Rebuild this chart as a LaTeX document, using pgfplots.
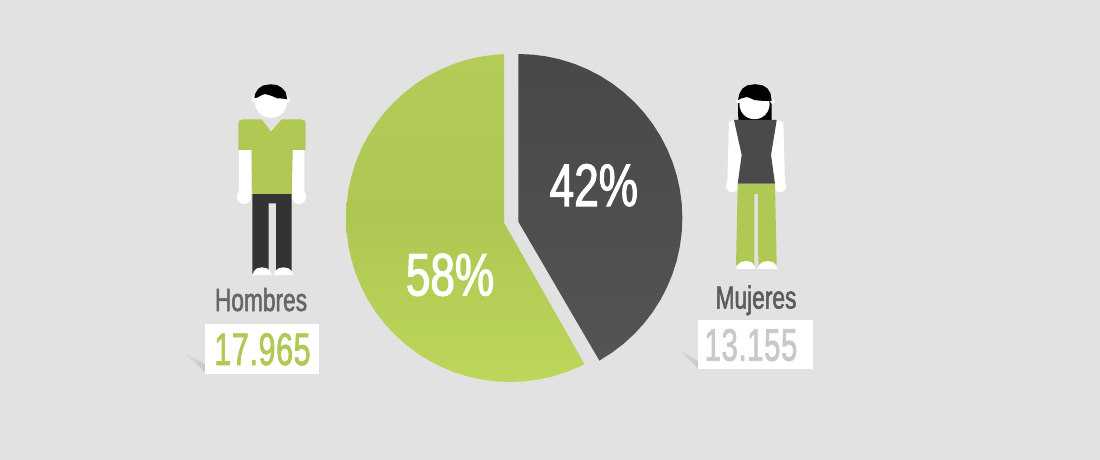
\documentclass[border=0pt]{standalone}
\usepackage{fontspec}
\usepackage{pgfplots}
\pgfplotsset{compat=1.18}
\usepgfplotslibrary{polar}
\newfontfamily\cond[FakeStretch=0.71,FakeBold=1.6]{Liberation Sans}
\newfontfamily\condlime[FakeStretch=0.665,FakeBold=1.6,LetterSpace=1.5]{Liberation Sans}
\newfontfamily\condpale[FakeStretch=0.64,FakeBold=1.6,LetterSpace=1.5]{Liberation Sans}
\newfontfamily\condpct[FakeStretch=0.735,FakeBold=1.8]{Liberation Sans}
\definecolor{bg}{HTML}{E2E2E2}
\definecolor{lime}{HTML}{B0C854}
\definecolor{limetop}{HTML}{B3CC57}
\definecolor{limemid}{HTML}{AEC753}
\definecolor{limebot}{HTML}{BCD75A}
\definecolor{coal}{HTML}{333333}
\definecolor{vest}{HTML}{4A4A4A}
\definecolor{vesttop}{HTML}{484848}
\definecolor{vestbot}{HTML}{545454}
\definecolor{label}{HTML}{666666}
\definecolor{pale}{HTML}{C8C8C8}
\pgfplotsset{
  canvas/.style={hide axis,scale only axis,width=1100pt,height=460pt,
    axis equal=false,enlargelimits=false,clip=true,at={(0,0)},anchor=south west},
  pixels/.style={canvas,xmin=0,xmax=1100,ymin=0,ymax=460,y dir=reverse},
  shape/.style={fill=#1,draw=none,no markers,line width=0pt},
  dot/.style={only marks,mark=*,mark size=#1,mark options={draw=none}},
}
\begin{document}
\begin{tikzpicture}
% everything but the pie, in picture pixels
\begin{axis}[pixels]
\addplot[shape=bg] coordinates {(0,0) (1100,0) (1100,460) (0,460)};

% man
\addplot[dot=2.5pt,white] coordinates {(254.5,99.5) (287,99.5)};
\addplot[dot=16pt,white] coordinates {(271,101.7)};
\addplot[shape=white] coordinates {(239,150) (251,150) (251.5,194) (239,194)};
\addplot[shape=white] coordinates {(292.5,150) (304.3,150) (304.3,194) (292,194)};
\addplot[dot=7pt,white] coordinates {(244,196.7) (299,196.7)};
\addplot[shape=coal] coordinates {(252.3,194) (291.7,194) (291.7,273.5) (276,273.5) (276,203.3) (268.7,203.3) (268.7,273.5) (252.3,273.5)};
\addplot[shape=white] coordinates {(252.7,275) (254,271) (257,268.3) (262,267.3) (267,268.3) (270.3,271) (271.7,275)};
\addplot[shape=white] coordinates {(274,275) (275.3,271) (278.5,268.3) (283.5,267.3) (288.5,268.3) (291.7,271) (293,275)};

% woman
\addplot[shape=black] coordinates {(738.3,120.5) (738,100) (771.7,100) (771.5,120.5)};
\addplot[dot=2pt,white] coordinates {(738.5,101) (772.5,101.5)};
\addplot[dot=14.8pt,white] coordinates {(754.5,104.2)};
\addplot[shape=white] coordinates {(729,122) (734,120) (741.7,155) (738,186) (727.3,184)};
\addplot[shape=white] coordinates {(783.3,122) (776.7,120) (771,155) (775,186) (785,184)};
\addplot[dot=6pt,white] coordinates {(732.3,186) (780,186)};

% labels and count boxes
\addplot[draw=none,left color=bg,right color=black!22] coordinates {(183,352) (205,364) (205,372)};
\addplot[draw=none,left color=bg,right color=black!22] coordinates {(676,348) (698,361) (698,368)};
\addplot[shape=white] coordinates {(205,324) (319,324) (319,374) (205,374)};
\addplot[shape=white] coordinates {(698,320) (813,320) (813,368.7) (698,368.7)};
\node[anchor=base,inner sep=0pt,text=label] at (axis cs:261,311) {\cond\fontsize{32}{32}\selectfont Hombres};
\node[anchor=base,inner sep=0pt,text=label!90!black] at (axis cs:756,308.6) {\cond\fontsize{32}{32}\selectfont Mujeres};
\node[anchor=base,inner sep=0pt,text=lime] at (axis cs:262.5,365) {\condlime\fontsize{45.6}{46}\selectfont 17.965};
\node[anchor=base,inner sep=0pt,text=pale] at (axis cs:751,360.7) {\condpale\fontsize{45.6}{46}\selectfont 13.155};
\end{axis}

% marks go on top of an axis' paths, so what covers the heads and hands has an axis of its own
\begin{axis}[pixels]
\addplot[shape=black] coordinates {(254.3,98.3) (255.5,93) (258.5,88.5) (263,85.5) (270,84.3) (277,85) (282,88) (285.5,92) (287.3,99.3) (283,98.6) (277,98.3) (272,96) (265,94) (261,95.5) (257.5,97.5)};
\addplot[shape=lime] coordinates {(238.3,150) (238.3,123.5) (239.5,120.5) (242.7,119.3) (261.7,119.3) (271,131.7) (281.7,119.3) (300.7,119.3) (304.5,120.5) (305.7,123.5) (305.7,150) (292.7,150) (291.7,194) (252.3,194) (251.7,150)};
\addplot[shape=black] coordinates {(738,100) (739.5,93.5) (742.5,88.5) (747.5,85.3) (755,84.2) (762.5,85.3) (767.5,88.5) (770.5,93.5) (771.7,101) (766,101) (760,100.7) (754.3,100) (750,98) (746.7,97) (741,98.5)};
\addplot[shape=lime] coordinates {(737.7,184) (775,184) (776.7,265) (758.3,265) (757.8,194) (754.3,194) (754.3,265) (736,265)};
\addplot[shape=white] coordinates {(736,269) (738,264.5) (741,262) (746,261) (751,262) (753.7,264.5) (755.3,269)};
\addplot[shape=white] coordinates {(757.7,269) (759.5,264.5) (762.5,262) (767.5,261) (772.5,262) (775.5,264.5) (777.3,269)};
\addplot[shape=vest] coordinates {(734,120) (776.7,120) (771,155) (775,183.7) (737.7,183.7) (741.7,155)};
\end{axis}

% 58% wedge: (angle, radius) about its own centre, pixel (510,218)
\begin{axis}[canvas,xmin=-510,xmax=590,ymin=-242,ymax=218]
\addplot[data cs=polar,draw=none,no markers,top color=limetop,bottom color=limebot,middle color=limemid] coordinates {
  (218,7.6) (92.1,164) (95,164) (100,164) (105,164) (110,164) (115,164) (120,164)
  (125,164) (130,164) (135,164) (140,164) (145,164) (150,164) (155,164) (160,164)
  (165,164) (170,164) (175,164) (180,164) (185,164) (190,164) (195,164) (200,164)
  (205,164) (210,164) (215,164) (220,164) (225,164) (230,164) (235,164) (240,164)
  (245,164) (250,164) (255,164) (260,164) (265,164) (270,164) (275,164) (280,164)
  (285,164) (290,164) (295,164) (297,164)};
\node[inner sep=0pt,text=white,anchor=base] at (axis cs:-60,-77.5) {\condpct\fontsize{60}{60}\selectfont 58\%};
\end{axis}

% 42% wedge, centre at pixel (518.3,218)
\begin{axis}[canvas,xmin=-518.3,xmax=581.7,ymin=-242,ymax=218]
\addplot[data cs=polar,draw=none,no markers,top color=vesttop,bottom color=vestbot] coordinates {
  (270,3.7) (90,164) (85,164) (80,164) (75,164) (70,164) (65,164) (60,164) (55,164)
  (50,164) (45,164) (40,164) (35,164) (30,164) (25,164) (20,164) (15,164) (10,164)
  (5,164) (0,164) (-5,164) (-10,164) (-15,164) (-20,164) (-25,164) (-30,164)
  (-35,164) (-40,164) (-45,164) (-50,164) (-55,164) (-60,164) (-60.4,164)};
\node[inner sep=0pt,text=white,anchor=base] at (axis cs:75.5,12) {\condpct\fontsize{60}{60}\selectfont 42\%};
\end{axis}
\end{tikzpicture}
\end{document}
